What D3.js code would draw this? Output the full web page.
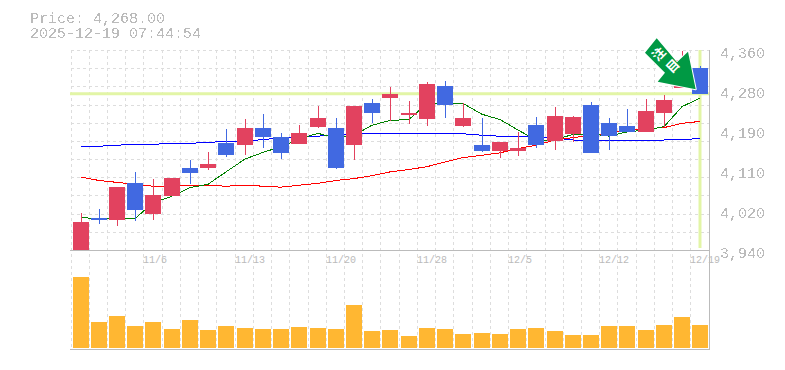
<!DOCTYPE html>
<html>
<head>
<meta charset="utf-8">
<script src="https://cdn.jsdelivr.net/npm/d3@7"></script>
<style>
    html, body { margin: 0; padding: 0; background: #fff; overflow: hidden; }
    text { font-family: "Liberation Mono", monospace; fill: #bbb; }
</style>
</head>
<body>
<div id="chart"></div>
<script>
const dates = ["10/30","10/31","11/4","11/5","11/6","11/7","11/10","11/11","11/12","11/13","11/14","11/17","11/18","11/19","11/20","11/21","11/25","11/26","11/27","11/28","12/1","12/2","12/3","12/4","12/5","12/8","12/9","12/10","12/11","12/12","12/15","12/16","12/17","12/18","12/19"];
const opens = [3940,4007,4003,4081,4016,4053,4112,4112,4165,4160,4196,4178,4163,4198,4196,4160,4249,4259,4224,4215,4284,4200,4160,4148,4148,4202,4169,4184,4245,4207,4200,4188,4228,4280,4322];
const closes = [3999,4003,4072,4024,4056,4091,4102,4121,4140,4196,4178,4144,4186,4217,4112,4242,4228,4268,4228,4289,4245,4217,4148,4167,4154,4160,4221,4219,4144,4179,4188,4232,4255,4340,4268];
const highs = [4018,4026,4072,4104,4089,4091,4129,4146,4194,4215,4226,4186,4202,4242,4217,4242,4257,4282,4253,4293,4295,4249,4217,4167,4188,4219,4240,4221,4251,4217,4236,4257,4265,4358,4326];
const lows = [3940,3995,3990,4001,4003,4053,4079,4108,4135,4140,4154,4131,4163,4196,4110,4129,4207,4211,4205,4200,4217,4198,4146,4133,4137,4154,4150,4167,4144,4150,4188,4188,4198,4280,4268];
const volumes = [710,260,320,220,260,190,280,180,220,200,190,190,210,200,190,430,170,180,120,200,190,140,150,140,190,200,170,130,130,220,220,180,230,310,230];
const maShort = [4008,4006,4008,4006,4039,4053,4071,4078,4104,4131,4145,4157,4173,4185,4175,4181,4202,4212,4214,4248,4249,4248,4225,4214,4192,4171,4171,4183,4184,4179,4188,4192,4199,4241,4259];
const maMid = [4093,4086,4082,4078,4074,4074,4076,4076,4074,4076,4074,4072,4076,4080,4086,4090,4096,4104,4109,4115,4125,4134,4139,4144,4153,4160,4171,4176,4181,4185,4191,4195,4197,4206,4210];
const maLong = [4158,4158,4160,4162,4162,4164,4164,4166,4168,4168,4172,4175,4177,4179,4183,4184,4185,4185,4185,4185,4185,4184,4181,4179,4179,4177,4175,4171,4171,4171,4171,4171,4171,4172,4174];
const priceTicks = [4360,4276,4192,4108,4024,3940];
const priceTickLabels = ["4,360","4,280","4,190","4,110","4,020","3,940"];
const dateTicks = ["11/6","11/13","11/20","11/28","12/5","12/12","12/19"];
const lastPrice = 4268;
const headerLines = ["Price: 4,268.00","2025-12-19 07:44:54"];

const width = 785, height = 370;
const plotLeft = 70.5, plotRight = 708.6, plotTop = 50, priceBottom = 250, volBottom = 350;

const svg = d3.select("#chart").append("svg")
    .attr("width", width)
    .attr("height", height)
    .style("display", "block");

// hard threshold on the alpha, the original text is not antialiased
const defs = svg.append("defs");
defs.append("filter").attr("id", "aliased")
    .attr("x", 0).attr("y", 0).attr("width", 1).attr("height", 1)
    .append("feComponentTransfer")
    .append("feFuncA").attr("type", "discrete").attr("tableValues", "0 0 1 1");

const x = d3.scaleBand().domain(dates).range([plotLeft, plotRight]);
const y = d3.scaleLinear().domain([3940, 4360]).range([priceBottom, plotTop]);
const v = d3.scaleLinear().domain([0, 980]).range([348, 250]);
const px = d => Math.round(x(d));
const mid = d => px(d) + 10;

// grid
const grid = svg.append("g")
    .attr("stroke", "#ddd")
    .attr("stroke-dasharray", "3,3")
    .attr("shape-rendering", "crispEdges");
grid.selectAll(".v").data(dates).enter().append("line")
    .attr("x1", d => px(d) + 0.5).attr("x2", d => px(d) + 0.5)
    .attr("y1", plotTop).attr("y2", volBottom);
grid.selectAll(".h").data(d3.range(0, 11)).enter().append("line")
    .attr("x1", plotLeft).attr("x2", 710)
    .attr("y1", d => Math.round(plotTop + d * (priceBottom - plotTop) / 11) + 0.5)
    .attr("y2", d => Math.round(plotTop + d * (priceBottom - plotTop) / 11) + 0.5);

// frame
const frame = svg.append("g")
    .attr("stroke", "#bbb")
    .attr("shape-rendering", "crispEdges");
frame.append("line").attr("x1", 70).attr("x2", 710).attr("y1", 250.5).attr("y2", 250.5);
frame.append("line").attr("x1", 70).attr("x2", 710).attr("y1", 349.5).attr("y2", 349.5);
frame.append("line").attr("x1", 709.5).attr("x2", 709.5).attr("y1", plotTop).attr("y2", volBottom);

// last price cross
svg.append("line")
    .attr("x1", 70).attr("x2", 709)
    .attr("y1", y(lastPrice)).attr("y2", y(lastPrice))
    .attr("stroke", "#e2f5a6").attr("stroke-width", 3);
svg.append("line")
    .attr("x1", mid(dates[34])).attr("x2", mid(dates[34]))
    .attr("y1", plotTop).attr("y2", 248)
    .attr("stroke", "#e2f5a6").attr("stroke-width", 3);

// moving averages
const maLine = d3.line()
    .x((d, i) => mid(dates[i]))
    .y(d => y(d));
[[maLong, "#0000ff"], [maMid, "#ff0000"], [maShort, "#008000"]].forEach(function (s) {
    svg.append("path")
        .attr("d", maLine(s[0]))
        .attr("fill", "none")
        .attr("stroke", s[1])
        .attr("stroke-width", 1)
        .attr("shape-rendering", "crispEdges");
});

// candles
const upColor = "#e2425f", downColor = "#4169e1";
const candles = svg.append("g").attr("shape-rendering", "crispEdges")
    .selectAll("g").data(dates).enter().append("g")
    .attr("fill", (d, i) => closes[i] >= opens[i] ? upColor : downColor);
candles.append("rect")
    .attr("x", d => mid(d))
    .attr("width", 1)
    .attr("y", (d, i) => y(highs[i]))
    .attr("height", (d, i) => y(lows[i]) - y(highs[i]));
candles.append("rect")
    .attr("x", d => px(d) + 2)
    .attr("width", 16)
    .attr("y", (d, i) => y(Math.max(opens[i], closes[i])))
    .attr("height", (d, i) => Math.max(1, Math.abs(y(opens[i]) - y(closes[i]))));

// volume
svg.append("g").attr("shape-rendering", "crispEdges")
    .selectAll("rect").data(dates).enter().append("rect")
    .attr("x", d => px(d) + 2)
    .attr("width", 16)
    .attr("y", (d, i) => v(volumes[i]))
    .attr("height", (d, i) => v(0) - v(volumes[i]))
    .attr("fill", "#ffb732");

// axes
const yAxis = svg.append("g")
    .attr("transform", "translate(720,3)")
    .attr("filter", "url(#aliased)")
    .call(d3.axisRight(y).tickValues(priceTicks).tickSize(0).tickPadding(0)
        .tickFormat((d, i) => priceTickLabels[i]));
yAxis.select(".domain").remove();
yAxis.selectAll("text").style("font-size", "15px").style("font-family", "'Liberation Mono', monospace").attr("fill", "#bbb");

const xAxis = svg.append("g")
    .attr("transform", "translate(0,255)")
    .call(d3.axisBottom(x).tickValues(dateTicks).tickSize(0).tickPadding(0));
xAxis.select(".domain").remove();
xAxis.selectAll(".tick").attr("transform", d => "translate(" + px(d) + ",0)");
xAxis.selectAll("text")
    .attr("text-anchor", "start")
    .attr("y", 0)
    .attr("dy", "0.75em")
    .attr("fill", "#ccc")
    .style("font-size", "10px")
    .style("font-family", "'Liberation Mono', monospace");

// header
svg.append("g").attr("filter", "url(#aliased)")
    .selectAll("text").data(headerLines).enter().append("text")
    .attr("x", 30)
    .attr("y", (d, i) => 23 + i * 14.5)
    .style("font-size", "15px")
    .text(d => d);

// arrow badge
const arrowShape = [[656.7,38.3],[645,52.7],[665,72.7],[657.7,81.7],[695.7,89.3],[688,51.7],[677,62.3]];
svg.append("polygon")
    .attr("points", arrowShape.join(" "))
    .attr("fill", "#009944")
    .attr("stroke", "#fff")
    .attr("stroke-width", 2)
    .attr("stroke-linejoin", "round")
    .attr("paint-order", "stroke");
svg.selectAll(".badge").data([["注",658.5,54],["目",672.5,66]]).enter().append("text")
    .attr("transform", d => "translate(" + d[1] + "," + d[2] + ") rotate(-45)")
    .attr("text-anchor", "middle")
    .attr("dy", "0.38em")
    .style("font-family", "'Noto Sans CJK JP'")
    .style("font-size", "13px")
    .style("font-weight", "bold")
    .style("fill", "#fff")
    .text(d => d[0]);
</script>
</body>
</html>
